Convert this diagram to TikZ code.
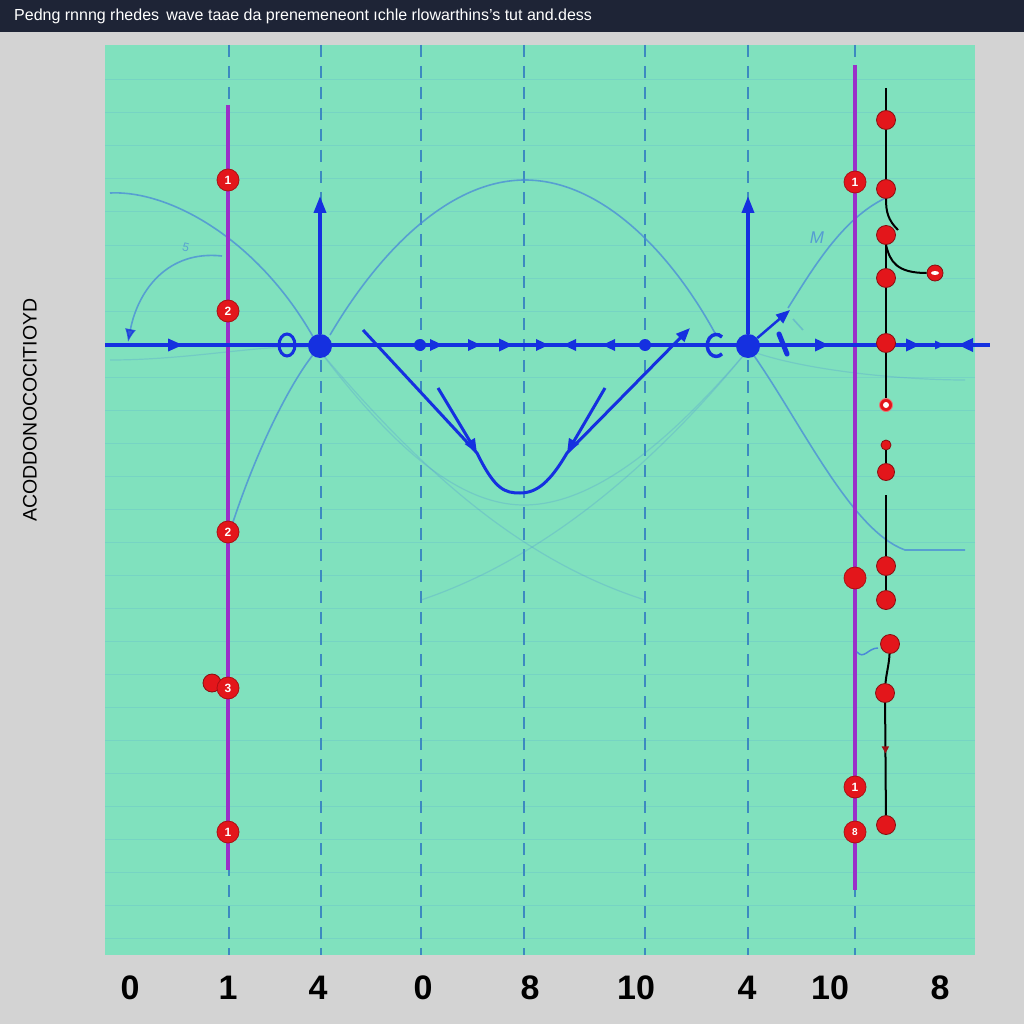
\documentclass[tikz,border=0pt]{standalone}
\usepackage{fontspec}
\setmainfont{Liberation Sans}
\usetikzlibrary{positioning,arrows.meta,decorations.markings}

\definecolor{bggray}{HTML}{D3D3D3}
\definecolor{barnavy}{HTML}{1E2436}
\definecolor{mint}{HTML}{80E1BE}
\definecolor{ruleblue}{HTML}{5FB8D0}
\definecolor{dashblue}{HTML}{3C8AC0}
\definecolor{axisblue}{HTML}{1530E0}
\definecolor{waveblue}{HTML}{4A8AD8}
\definecolor{purpline}{HTML}{9B2FC9}
\definecolor{dotred}{HTML}{E3161B}

\tikzset{
  numdot/.style={circle, fill=dotred, draw=dotred!75!black, line width=0.8pt,
    inner sep=0pt, minimum size=22pt, text=white,
    font=\bfseries\fontsize{12}{12}\selectfont},
  chaindot/.style={circle, fill=dotred, draw=dotred!60!black, line width=0.8pt,
    inner sep=0pt, minimum size=19pt},
  bluedot/.style={circle, fill=axisblue, inner sep=0pt, minimum size=#1},
  axisline/.style={axisblue, line width=3.5pt},
  vline/.style={axisblue, line width=3pt, -{Triangle[length=14pt,width=11pt]}},
  wave/.style={waveblue, line width=1.6pt, opacity=0.75},
  faint/.style={waveblue, line width=1.2pt, opacity=0.25},
  chain/.style={black, line width=2pt},
  purp/.style={purpline, line width=4pt},
  ticklabel/.style={font=\bfseries\fontsize{34}{34}\selectfont, text=black}
}

\begin{document}
\begin{tikzpicture}[x=1pt, y=-1pt, >=Latex]
  \useasboundingbox (0,0) rectangle (1024,1024);
  \fill[bggray] (0,0) rectangle (1024,1024);
  \fill[barnavy] (0,0) rectangle (1024,32);
  \node (title) [anchor=west, text=white, inner sep=0pt,
    font=\fontsize{16}{16}\selectfont] at (14,16)
    {Pedng rnnng rhedes\, wave taae da prenemeneont ıchle rlowarthins's tut and.dess};

  % panel and its faint rules
  \fill[mint] (105,45) rectangle (975,955);
  \foreach \y in {80,113,...,940}
    \draw[ruleblue, opacity=0.3, line width=1pt] (105,\y) -- (975,\y);
  \foreach \x in {229,321,421,524,645,748,855}
    \draw[dashblue, line width=1.3pt, dash pattern=on 12pt off 9pt] (\x,45) -- (\x,955);

  \node (ylab) [rotate=90, font=\fontsize{19.5}{19.5}\selectfont] at (30,410)
    {ACODDONOCOCITIOYD};

  % faint waves
  \draw[wave] (330,335) .. controls (380,250) and (450,180) .. (525,180)
    .. controls (600,180) and (670,250) .. (716,335);
  \draw[wave] (110,193) .. controls (170,190) and (260,240) .. (316,342);
  \draw[wave, -{Latex[length=13pt,width=11pt,color=axisblue]}]
    (222,256) .. controls (168,250) and (138,290) .. (128,342);
  \node (squig) [text=waveblue, opacity=0.7, rotate=-15,
    font=\fontsize{12}{12}\selectfont] at (186,247) {5};
  \draw[wave] (232,525) .. controls (260,440) and (295,375) .. (317,350);
  \draw[wave] (788,308) .. controls (815,265) and (845,215) .. (890,196);
  \draw[wave] (750,350) .. controls (800,420) and (850,530) .. (905,550) -- (965,550);
  \draw[wave, opacity=0.4] (793,319) -- (803,330);
  \node (mlab) [text=waveblue, opacity=0.8, font=\itshape\fontsize{17}{17}\selectfont]
    at (817,238) {M};
  \draw[faint] (319,350) .. controls (380,430) and (450,505) .. (524,505)
    .. controls (600,505) and (680,430) .. (748,350);
  \draw[faint] (319,350) .. controls (420,470) and (520,560) .. (645,600);
  \draw[faint] (748,350) .. controls (650,470) and (540,560) .. (421,600);
  \draw[faint] (110,360) .. controls (200,360) and (280,340) .. (319,350);
  \draw[faint] (748,350) .. controls (800,370) and (900,380) .. (965,380);

  % purple lines
  \draw[purp] (228,105) -- (228,870);
  \draw[purp] (855,65) -- (855,890);

  % axis
  \coordinate (axL) at (105,345);
  \coordinate (axR) at (990,345);
  \draw[axisline, postaction={decorate}, decoration={markings,
      mark=at position 78pt with {\arrow{Triangle[length=15pt,width=12pt]}},
      mark=at position 338pt with {\arrow{Triangle[length=13pt,width=11pt]}},
      mark=at position 376pt with {\arrow{Triangle[length=13pt,width=11pt]}},
      mark=at position 408pt with {\arrow{Triangle[length=14pt,width=12pt]}},
      mark=at position 444pt with {\arrow{Triangle[length=13pt,width=11pt]}},
      mark=at position 458pt with {\arrowreversed{Triangle[length=13pt,width=11pt]}},
      mark=at position 497pt with {\arrowreversed{Triangle[length=13pt,width=11pt]}},
      mark=at position 724pt with {\arrow{Triangle[length=14pt,width=12pt]}},
      mark=at position 815pt with {\arrow{Triangle[length=14pt,width=12pt]}},
      mark=at position 840pt with {\arrow{Triangle[length=10pt,width=8pt]}},
      mark=at position 853pt with {\arrowreversed{Triangle[length=15pt,width=13pt]}}}]
    (axL) -- (axR);

  % dots on the axis
  \node (bd1) [bluedot=24pt] at (320,346) {};
  \node (bd2) [bluedot=24pt] at (748,346) {};
  \node (sd1) [bluedot=12pt] at (420,345) {};
  \node (sd2) [bluedot=12pt] at (645,345) {};
  \draw[axisblue, line width=3pt] (287,345) ellipse (8 and 11);
  \draw[axisblue, line width=3.5pt] (722,337) arc (-50:-310:9 and 11);
  \draw[axisblue, line width=5pt, line cap=round] (779,334) -- (787,354);

  % vertical arrows
  \coordinate (up1) at (320,196);
  \coordinate (up2) at (748,196);
  \draw[vline, line width=3.5pt, -{Triangle[length=17pt,width=12pt]}] (bd1) -- (up1);
  \draw[vline, line width=3.5pt, -{Triangle[length=17pt,width=12pt]}] (bd2) -- (up2);
  \coordinate (ne) at (790,310);
  \draw[vline, line width=2.5pt] (bd2) -- (ne);

  % the V
  \coordinate (vL) at (363,330);
  \coordinate (vA) at (477,453);
  \coordinate (vB) at (567,453);
  \coordinate (vR) at (690,328);
  \coordinate (sA) at (438,388);
  \coordinate (sB) at (605,388);
  \draw[vline] (vL) -- (vA) .. controls (495,490) and (505,493) .. (520,493)
    .. controls (537,493) and (550,482) .. (vB) -- (vR);
  \draw[vline] (sA) -- (vA);
  \draw[vline] (sB) -- (vB);

  % numbered dots, left
  \node (l0) [chaindot, minimum size=18pt] at (212,683) {};
  \node (l1) [numdot] at (228,180) {1};
  \node (l2) [numdot] at (228,311) {2};
  \node (l3) [numdot] at (228,532) {2};
  \node (l4) [numdot] at (228,688) {3};
  \node (l5) [numdot] at (228,832) {1};

  % numbered dots, right
  \node (r1) [numdot] at (855,182) {1};
  \node (r2) [numdot] at (855,578) {};
  \node (r3) [numdot] at (855,787) {1};
  \node (r4) [numdot, font=\bfseries\fontsize{10}{10}\selectfont] at (855,832) {8};
  \draw[waveblue, line width=1.5pt] (857,652) .. controls (864,660) and (868,648) .. (878,648);

  % black chain
  \coordinate (c0) at (886,88);
  \node (c1) [chaindot] at (886,120) {};
  \node (c2) [chaindot] at (886,189) {};
  \node (c3) [chaindot] at (886,235) {};
  \node (c4) [chaindot] at (886,278) {};
  \node (c5) [chaindot] at (886,343) {};
  \node (c6) [chaindot, minimum size=13pt, draw=white!40!dotred] at (886,405) {};
  \node (c7) [chaindot, minimum size=10pt] at (886,445) {};
  \node (c8) [chaindot, minimum size=17pt] at (886,472) {};
  \coordinate (c9) at (886,495);
  \node (c10) [chaindot] at (886,566) {};
  \node (c11) [chaindot] at (886,600) {};
  \node (c12) [chaindot] at (890,644) {};
  \node (c13) [chaindot] at (885,693) {};
  \node (c14) [chaindot] at (886,825) {};
  \node (sd) [chaindot, minimum size=16pt] at (935,273) {};
  \draw[chain] (c0) -- (c1) -- (c2);
  \draw[chain] (c2.south) .. controls (886,212) and (888,220) .. (898,230);
  \draw[chain] (c3) -- (c4) -- (c5) -- (c6);
  \draw[chain] (c3.south) .. controls (890,262) and (897,273) .. (sd.west);
  \draw[chain] (c7) -- (c8);
  \draw[chain] (c9) -- (c10) -- (c11);
  \draw[chain] (c12) .. controls (889,665) and (886,675) .. (c13);
  \draw[chain, postaction={decorate}, decoration={markings,
      mark=at position 0.45 with {\arrow[dotred!70!black]{Triangle[length=7pt,width=7pt]}}}]
    (c13) -- (c14);
  \fill[white] (c6) circle (3);
  \fill[white] (sd) ellipse (4 and 2);

  % bottom labels
  \foreach \x/\t [count=\i] in {130/0, 228/1, 318/4, 423/0, 530/8, 636/10, 747/4, 830/10, 940/8}
    \node (b\i) [ticklabel] at (\x,988) {\t};
\end{tikzpicture}
\end{document}
